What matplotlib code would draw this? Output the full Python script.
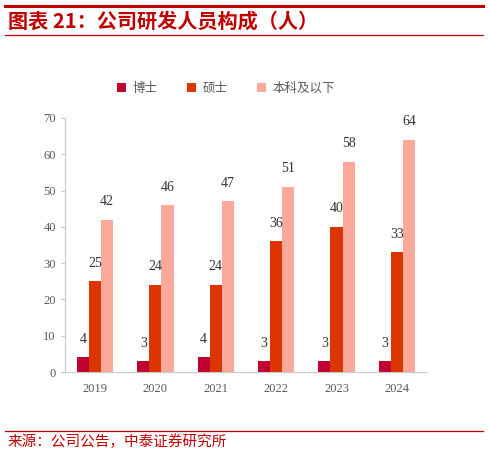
import matplotlib.pyplot as plt
import numpy as np
from matplotlib.lines import Line2D

plt.rcParams['font.family'] = ['Liberation Serif', 'Noto Sans CJK SC']

years = ["2019", "2020", "2021", "2022", "2023", "2024"]
phd = [4, 3, 4, 3, 3, 3]
master = [25, 24, 24, 36, 40, 33]
bachelor = [42, 46, 47, 51, 58, 64]

series = [("博士", phd, "#C00030"), ("硕士", master, "#DD3500"), ("本科及以下", bachelor, "#FBA99A")]

fig = plt.figure(figsize=(4.88, 4.54), dpi=100)
ax = fig.add_axes([0.133, 0.1806, 0.742, 0.5595])

x = np.arange(len(years))
w = 0.2
for i, (name, vals, col) in enumerate(series):
    bars = ax.bar(x + (i - 1) * w, vals, w, color=col, label=name)
    for b in bars:
        ax.annotate(f"{int(b.get_height())}",
                    xy=(b.get_x() + b.get_width() / 2, b.get_height()),
                    xytext=(0, 13), textcoords="offset points",
                    ha="center", va="center", fontsize=10, color="#333333")

ax.set_xlim(-0.5, len(years) - 0.5)
ax.set_ylim(0, 70)
ax.set_yticks(range(0, 71, 10))
ax.set_xticks(x)
ax.set_xticklabels(years)
for s in ["top", "right"]:
    ax.spines[s].set_visible(False)
for s in ["left", "bottom"]:
    ax.spines[s].set_color("#C8C8C8")
ax.tick_params(axis="y", colors="#C8C8C8", labelcolor="#595959", labelsize=9, length=3)
ax.tick_params(axis="x", length=0, labelcolor="#595959", labelsize=9, pad=8)

fig.legend(loc="center", bbox_to_anchor=(0.463, 0.806), ncol=3, frameon=False,
           handlelength=0.7, handleheight=0.7, columnspacing=2.4, handletextpad=0.5,
           prop={"family": "Noto Sans CJK SC", "size": 9}, labelcolor="#595959")

# header and footer
red = "#C00000"
fig.add_artist(Line2D([0.01, 0.99], [0.986, 0.986], color=red, lw=2.2))
fig.add_artist(Line2D([0.01, 0.99], [0.923, 0.923], color=red, lw=0.9))
fig.text(0.016, 0.953, "图表 21：公司研发人员构成（人）", color=red, fontsize=14.5,
         fontweight="bold", family=["Noto Sans CJK SC"], va="center")
fig.add_artist(Line2D([0.01, 0.99], [0.051, 0.051], color=red, lw=0.9))
fig.text(0.016, 0.027, "来源：公司公告，中泰证券研究所", color=red, fontsize=10.5,
         family=["Noto Sans CJK SC"], va="center")

fig.savefig("out.png", dpi=100)
